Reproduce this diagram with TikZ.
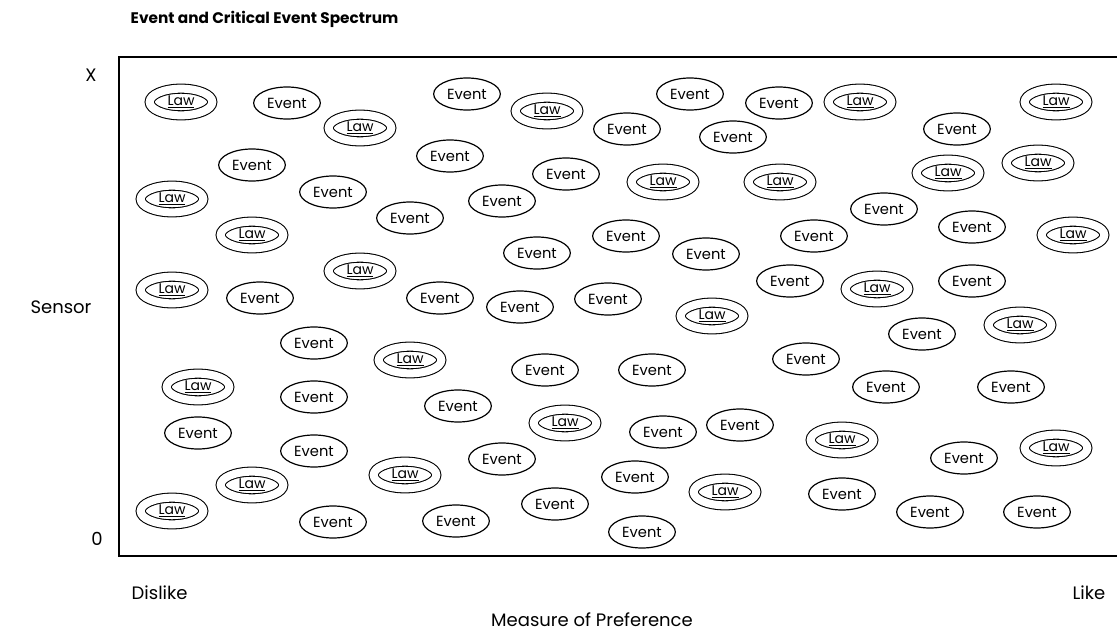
\documentclass[tikz,border=0pt]{standalone}
\usepackage{fontspec}
\setmainfont{Poppins}
\usetikzlibrary{shapes.geometric}
\newcommand{\lawlab}{\underline{Law}}

\begin{document}
\begin{tikzpicture}[x=0.75pt,y=-0.75pt,every node/.style={font=\fontsize{11}{12}\selectfont},
  event/.style={ellipse,draw=black,line width=0.9pt,minimum width=50pt,minimum height=24pt,inner sep=0pt},
  law/.style={ellipse,draw=black,line width=0.8pt,double,double distance=6pt,minimum width=47pt,minimum height=20pt,inner sep=0pt,font=\fontsize{10.5}{11}\selectfont},
  axlab/.style={font=\fontsize{13.5}{14}\selectfont}]
 \useasboundingbox (0,0) rectangle (1117,631);

 \draw (126,19) node[anchor=west,font=\fontsize{11.5}{13}\selectfont\bfseries] (title) {Event and Critical Event Spectrum};
 \draw (91,75)  node[axlab] (xtop) {X};
 \draw (61,307) node[axlab] (sensor) {Sensor};
 \draw (97,539) node[axlab] (zero) {0};
 \draw (127,593) node[axlab,anchor=west] (dislike) {Dislike};
 \draw (1110,593) node[axlab,anchor=east] (like) {Like};
 \draw (592,620) node[axlab] (measure) {Measure of Preference};

 % frame, open on the right
 \draw[line width=1.5pt] (1117,57) -- (119,57) -- (119,556) -- (1117,556);

 % laws
 \draw (181,102) node[law] (law1) {\lawlab};
 \draw (360,128) node[law] (law2) {\lawlab};
 \draw (547,111) node[law] (law3) {\lawlab};
 \draw (860,102) node[law] (law4) {\lawlab};
 \draw (1056,102) node[law] (law5) {\lawlab};
 \draw (948,173) node[law] (law6) {\lawlab};
 \draw (1038,163) node[law] (law7) {\lawlab};
 \draw (663,182) node[law] (law8) {\lawlab};
 \draw (780,182) node[law] (law9) {\lawlab};
 \draw (172,199) node[law] (law10) {\lawlab};
 \draw (252,235) node[law] (law11) {\lawlab};
 \draw (1073,235) node[law] (law12) {\lawlab};
 \draw (360,271) node[law] (law13) {\lawlab};
 \draw (172,290) node[law] (law14) {\lawlab};
 \draw (877,289) node[law] (law15) {\lawlab};
 \draw (712,316) node[law] (law16) {\lawlab};
 \draw (1020,325) node[law] (law17) {\lawlab};
 \draw (410,360) node[law] (law18) {\lawlab};
 \draw (198,387) node[law] (law19) {\lawlab};
 \draw (565,423) node[law] (law20) {\lawlab};
 \draw (842,440) node[law] (law21) {\lawlab};
 \draw (1056,448) node[law] (law22) {\lawlab};
 \draw (405,475) node[law] (law23) {\lawlab};
 \draw (252,485) node[law] (law24) {\lawlab};
 \draw (725,492) node[law] (law25) {\lawlab};
 \draw (172,511) node[law] (law26) {\lawlab};

 % events
 \draw (287,103) node[event] (ev1) {Event};
 \draw (467,94)  node[event] (ev2) {Event};
 \draw (627,129) node[event] (ev3) {Event};
 \draw (690,94)  node[event] (ev4) {Event};
 \draw (733,137) node[event] (ev5) {Event};
 \draw (779,103) node[event] (ev6) {Event};
 \draw (957,129) node[event] (ev7) {Event};
 \draw (252,165) node[event] (ev8) {Event};
 \draw (450,156) node[event] (ev9) {Event};
 \draw (566,174) node[event] (ev10) {Event};
 \draw (333,192) node[event] (ev11) {Event};
 \draw (502,201) node[event] (ev12) {Event};
 \draw (410,218) node[event] (ev13) {Event};
 \draw (884,209) node[event] (ev14) {Event};
 \draw (972,227) node[event] (ev15) {Event};
 \draw (626,236) node[event] (ev16) {Event};
 \draw (814,236) node[event] (ev17) {Event};
 \draw (537,253) node[event] (ev18) {Event};
 \draw (706,254) node[event] (ev19) {Event};
 \draw (790,281) node[event] (ev20) {Event};
 \draw (972,281) node[event] (ev21) {Event};
 \draw (260,298) node[event] (ev22) {Event};
 \draw (440,298) node[event] (ev23) {Event};
 \draw (520,307) node[event] (ev24) {Event};
 \draw (608,299) node[event] (ev25) {Event};
 \draw (922,334) node[event] (ev26) {Event};
 \draw (314,343) node[event] (ev27) {Event};
 \draw (806,359) node[event] (ev28) {Event};
 \draw (545,370) node[event] (ev29) {Event};
 \draw (652,370) node[event] (ev30) {Event};
 \draw (314,397) node[event] (ev31) {Event};
 \draw (886,387) node[event] (ev32) {Event};
 \draw (1011,387) node[event] (ev33) {Event};
 \draw (458,406) node[event] (ev34) {Event};
 \draw (663,432) node[event] (ev35) {Event};
 \draw (740,425) node[event] (ev36) {Event};
 \draw (198,433) node[event] (ev37) {Event};
 \draw (314,451) node[event] (ev38) {Event};
 \draw (502,459) node[event] (ev39) {Event};
 \draw (964,458) node[event] (ev40) {Event};
 \draw (635,477) node[event] (ev41) {Event};
 \draw (842,494) node[event] (ev42) {Event};
 \draw (555,504) node[event] (ev43) {Event};
 \draw (333,522) node[event] (ev44) {Event};
 \draw (456,521) node[event] (ev45) {Event};
 \draw (930,512) node[event] (ev46) {Event};
 \draw (1037,512) node[event] (ev47) {Event};
 \draw (642,532) node[event] (ev48) {Event};

\end{tikzpicture}
\end{document}
